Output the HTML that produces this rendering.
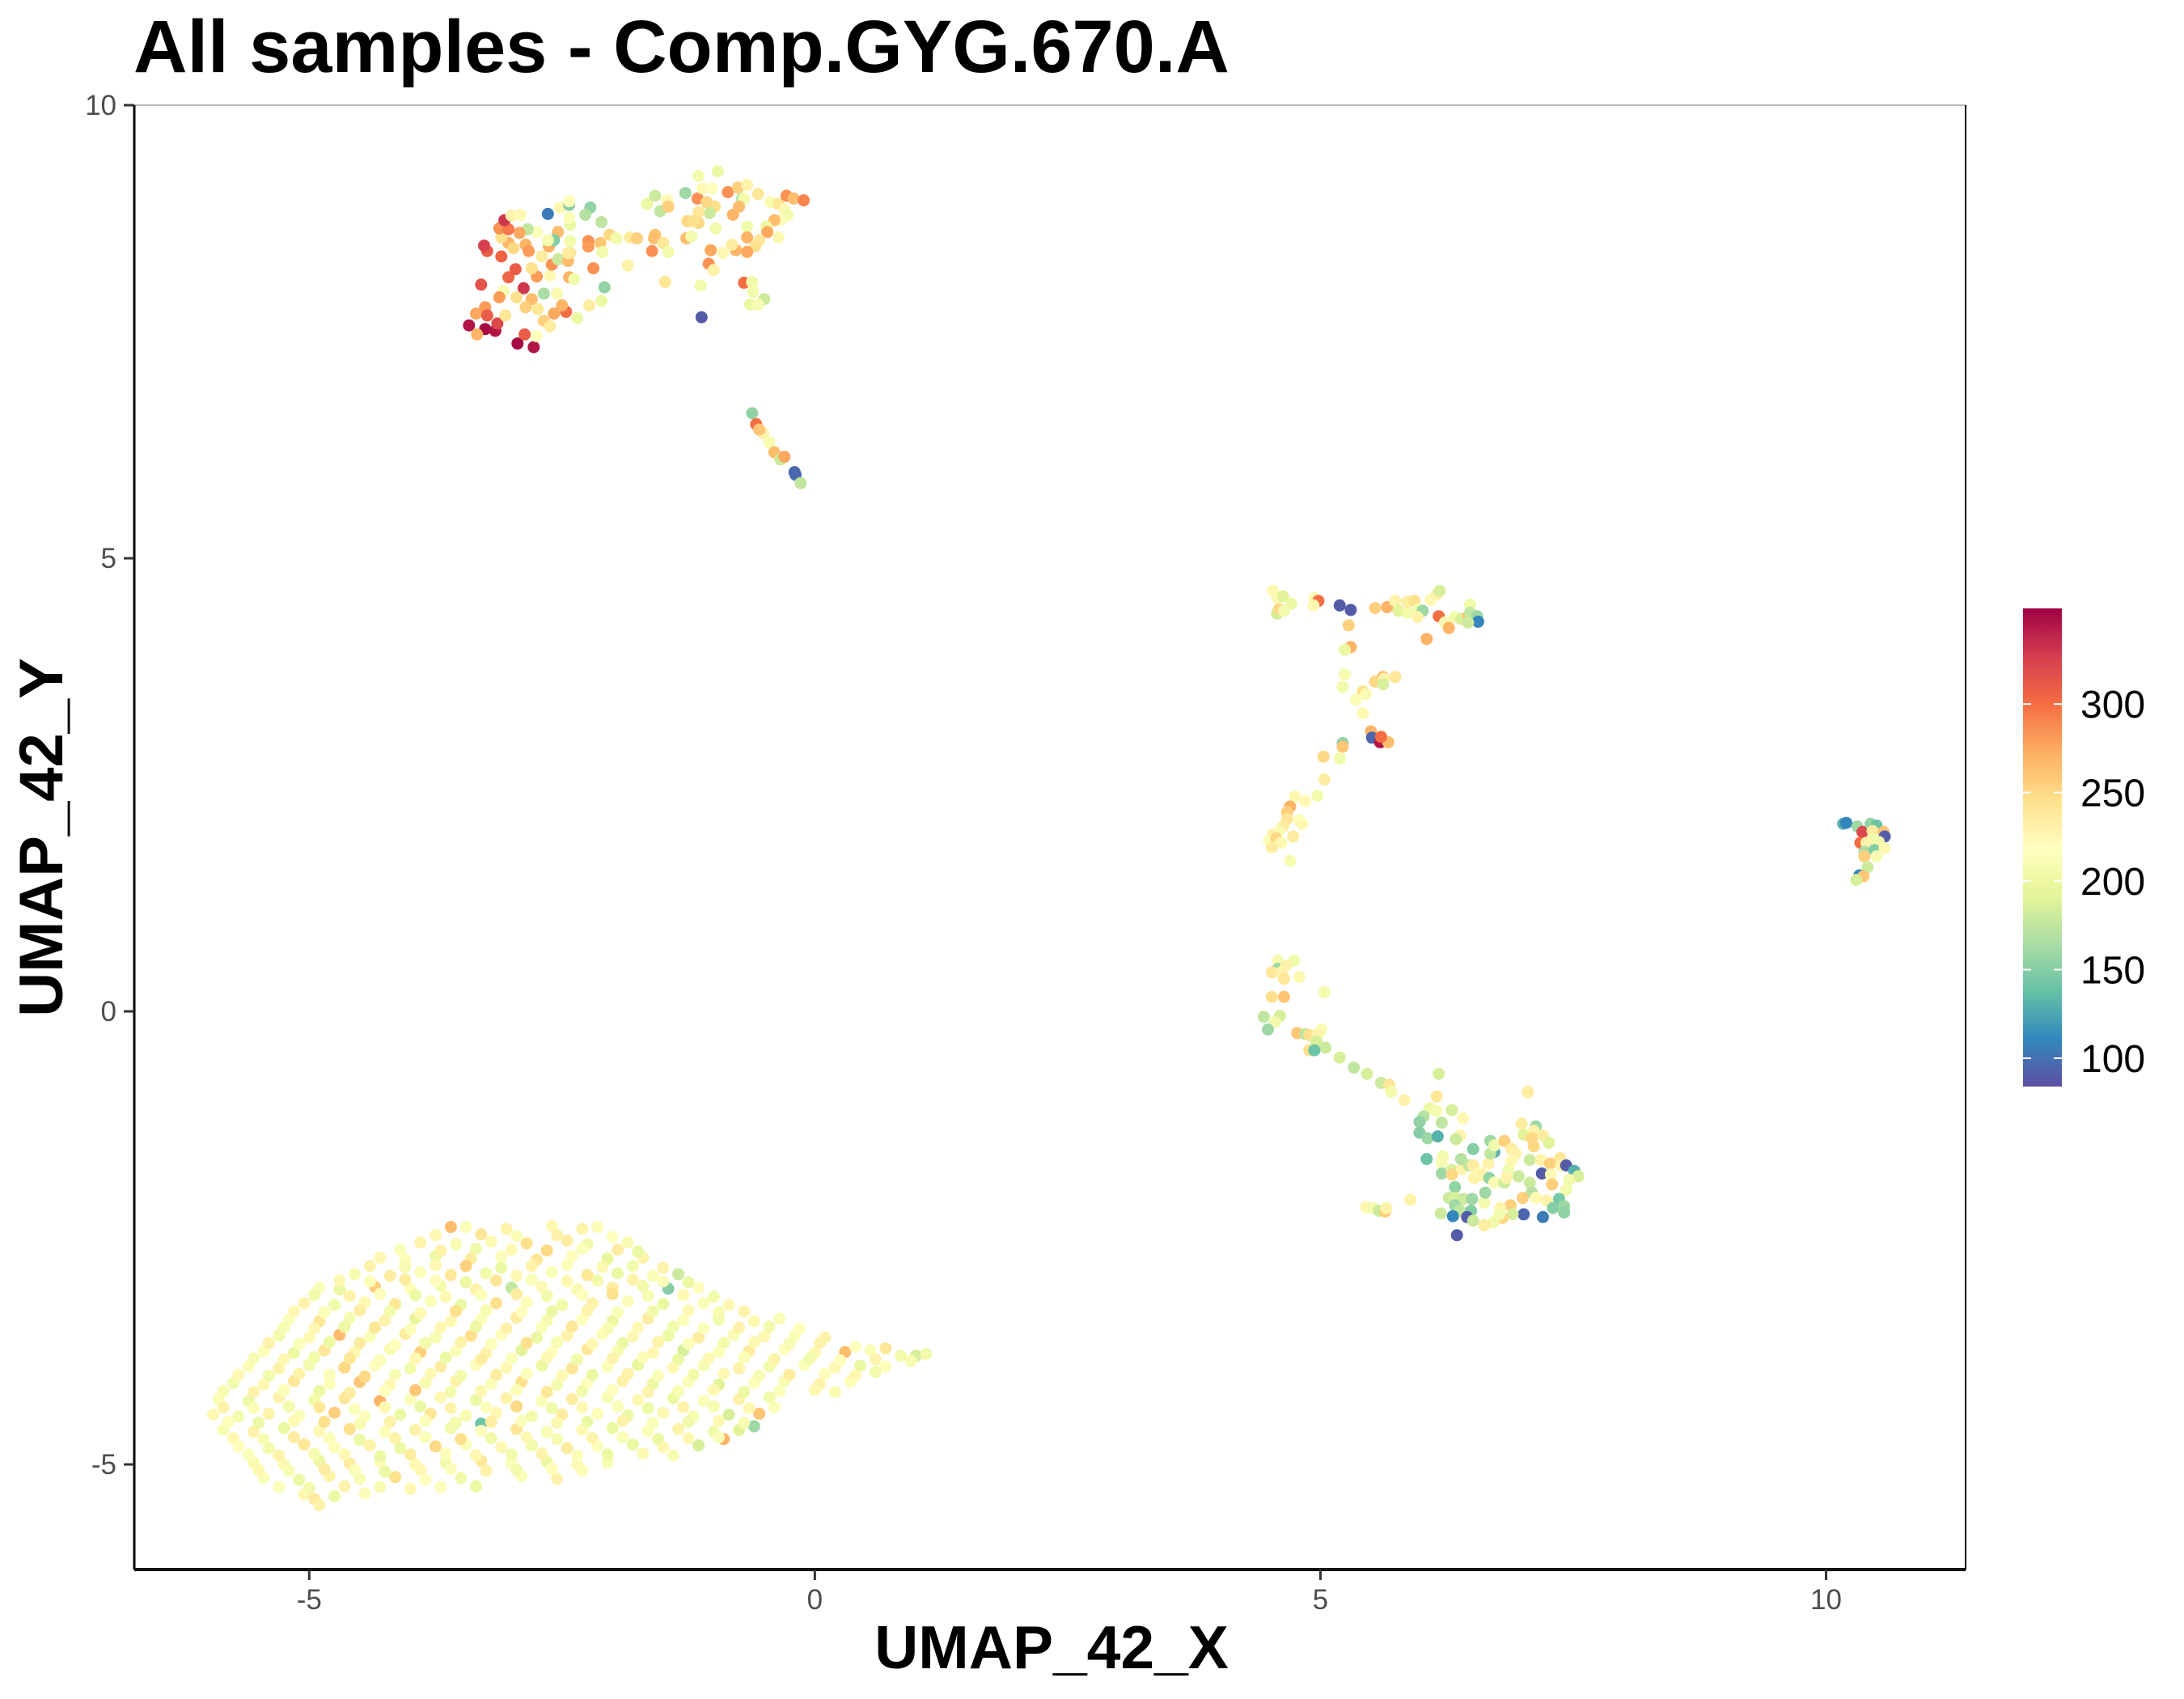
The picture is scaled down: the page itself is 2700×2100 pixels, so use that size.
<!DOCTYPE html>
<html><head><meta charset="utf-8"><title>All samples - Comp.GYG.670.A</title>
<style>html,body{margin:0;padding:0;background:#fff}svg{display:block}</style></head>
<body>
<svg id="chart" width="2700" height="2100" viewBox="0 0 2700 2100" xmlns="http://www.w3.org/2000/svg" font-family="Liberation Sans, Arial, sans-serif">
<defs>
<linearGradient id="spec" x1="0" y1="1" x2="0" y2="0">
<stop offset="0" stop-color="#5E4FA2"/><stop offset="0.1" stop-color="#3288BD"/><stop offset="0.2" stop-color="#66C2A5"/><stop offset="0.3" stop-color="#ABDDA4"/><stop offset="0.4" stop-color="#E6F598"/><stop offset="0.5" stop-color="#FFFFBF"/><stop offset="0.6" stop-color="#FEE08B"/><stop offset="0.7" stop-color="#FDAE61"/><stop offset="0.8" stop-color="#F46D43"/><stop offset="0.9" stop-color="#D53E4F"/><stop offset="1" stop-color="#9E0142"/>
</linearGradient>
</defs>
<rect width="2700" height="2100" fill="#fff"/>
<text x="165" y="89" font-size="92" font-weight="bold" fill="#000">All samples - Comp.GYG.670.A</text>
<g id="plot"></g>
<g id="axes"></g>
<text x="1300" y="2062" font-size="75" font-weight="bold" text-anchor="middle">UMAP_42_X</text>
<text transform="translate(77,1035) rotate(-90)" font-size="76" font-weight="bold" text-anchor="middle">UMAP_42_Y</text>
<g id="legend"></g>
</svg>
<script>
const xTicks = [-5, 0, 5, 10];
const yTicks = [-5, 0, 5, 10];
const xTickLabels = ["-5", "0", "5", "10"];
const yTickLabels = ["-5", "0", "5", "10"];
const colorBreaks = [100, 150, 200, 250, 300];
const colorLimits = [84, 354];
const xDomain = [-6.73, 11.38];
const yDomain = [-6.16, 10];

const clusterTopLeft = [
[-3.42,7.57,345],[-3.26,7.53,350],[-3.16,7.51,345],[-3.34,7.47,270],[-3.14,7.59,320],[-3.35,7.7,275],[-3.26,7.77,280],[-3.24,7.68,310],[-3.06,7.68,240],[-2.94,7.37,350],[-2.78,7.33,345],[-2.87,7.47,310],[-2.75,7.45,220],[-2.68,7.62,255],[-2.62,7.56,235],[-2.58,7.7,275],[-2.46,7.72,300],[-2.35,7.65,200],[-2.23,7.79,235],[-2.11,7.84,200],[-2.08,7.99,155],[-2.19,8.2,285],[-3.3,8.02,315],[-3.03,8.1,305],[-2.96,8.19,310],[-2.88,7.98,330],[-3.08,7.95,210],[-3.12,7.88,280],[-2.95,7.88,245],[-2.8,7.86,265],[-2.86,7.77,255],[-2.74,7.75,240],[-2.68,7.92,165],[-2.55,7.92,210],[-2.5,7.79,270],[-2.43,8.1,270],[-2.38,8.08,205],[-2.62,8.12,225],[-2.75,8.11,280],[-2.8,8.2,245],[-2.7,8.33,235],[-2.6,8.24,285],[-2.54,8.3,180],[-2.44,8.28,265],[-2.42,8.37,240],[-2.54,8.6,265],[-2.63,8.44,270],[-2.58,8.51,150],[-2.64,8.51,210],[-2.75,8.6,215],[-2.84,8.63,175],[-2.92,8.59,275],[-3.03,8.48,270],[-3.1,8.54,245],[-3.12,8.64,285],[-3.03,8.63,295],[-3.07,8.73,330],[-3.0,8.78,230],[-2.91,8.79,225],[-2.86,8.46,270],[-2.83,8.39,280],[-2.98,8.42,250],[-3.1,8.33,305],[-3.24,8.39,310],[-3.27,8.45,325],[-2.64,8.8,105],[-2.52,8.87,225],[-2.43,8.9,150],[-2.43,8.94,215],[-2.22,8.87,155],[-2.27,8.79,170],[-2.11,8.71,175],[-2.42,8.68,200],[-2.43,8.76,215],[-2.42,8.5,205],[-2.24,8.5,285],[-2.12,8.48,260],[-2.03,8.57,250],[-1.96,8.53,205],[-2.24,8.44,280],[-2.1,8.38,205],[-2.44,8.37,235],[-1.83,8.54,235],[-1.76,8.53,255],[-1.85,8.23,230],[-1.58,8.57,260],[-1.59,8.53,265],[-1.5,8.48,240],[-1.61,8.39,285],[-1.45,8.38,205],[-1.48,8.05,240],[-1.66,8.91,200],[-1.58,9.0,180],[-1.53,8.83,175],[-1.46,8.95,225],[-1.45,8.88,255],[-1.28,9.03,160],[-1.16,8.97,285],[-1.15,9.22,205],[-0.96,9.27,200],[-1.11,9.08,225],[-1.02,9.08,220],[-0.86,9.04,285],[-0.76,9.09,255],[-0.67,9.12,230],[-0.72,8.97,170],[-0.7,8.97,205],[-0.56,9.02,240],[-0.44,8.93,210],[-0.36,8.91,240],[-0.28,9.0,285],[-0.21,8.97,265],[-0.11,8.95,290],[-0.3,8.85,225],[-0.27,8.79,205],[-0.34,8.73,215],[-0.4,8.73,265],[-0.48,8.66,200],[-0.47,8.6,275],[-0.36,8.54,225],[-0.55,8.51,240],[-0.59,8.44,245],[-0.67,8.66,205],[-0.67,8.54,270],[-0.67,8.38,275],[-0.78,8.4,270],[-0.82,8.46,235],[-0.91,8.37,225],[-1.03,8.4,275],[-1.05,8.25,285],[-1.0,8.18,230],[-0.81,8.79,270],[-0.75,8.88,265],[-0.99,8.88,245],[-1.04,8.81,180],[-0.98,8.64,205],[-1.07,8.93,250],[-1.15,8.82,240],[-1.15,8.7,250],[-1.26,8.72,250],[-1.2,8.72,245],[-1.27,8.53,265],[-1.22,8.55,205],[-1.13,8.01,205],[-1.12,7.66,90],[-0.7,8.04,300],[-0.62,8.05,205],[-0.61,7.94,205],[-0.5,7.86,180],[-0.64,7.8,200],[-0.56,7.8,210]
];
const clusterStrand = [
[-0.62,6.6,155],[-0.58,6.48,300],[-0.51,6.38,230],[-0.45,6.28,210],[-0.4,6.17,265],[-0.34,6.09,180],[-0.19,5.92,100],[-0.14,5.83,175],[-0.55,6.42,260],[-0.3,6.12,275],[-0.2,5.95,95]
];
const clusterMidUpper = [
[4.53,4.64,225],[4.57,4.57,225],[4.63,4.58,190],[4.71,4.5,200],[4.57,4.39,185],[4.59,4.44,250],[4.64,4.42,205],[4.94,4.56,210],[4.98,4.53,300],[4.93,4.48,225],[5.19,4.48,90],[5.3,4.43,90],[5.54,4.45,255],[5.66,4.46,270],[5.74,4.53,230],[5.77,4.42,190],[5.86,4.4,205],[5.86,4.52,235],[5.93,4.53,245],[5.97,4.44,205],[6.01,4.42,160],[5.96,4.35,230],[6.09,4.54,225],[6.15,4.6,230],[6.18,4.64,185],[6.17,4.36,300],[6.23,4.29,225],[6.27,4.23,270],[6.33,4.35,205],[6.39,4.33,185],[6.46,4.36,260],[6.48,4.49,205],[6.48,4.4,175],[6.55,4.36,160],[6.56,4.3,110],[6.46,4.29,180],[6.05,4.11,270],[5.28,4.26,255],[5.3,4.02,270],[5.24,3.99,200],[5.24,3.72,210],[5.22,3.58,205],[5.42,3.53,245],[5.45,3.5,210],[5.35,3.44,215],[5.42,3.29,225],[5.54,3.64,250],[5.62,3.69,265],[5.63,3.67,230],[5.74,3.69,240],[5.62,3.61,185],[5.5,3.09,270],[5.51,3.02,95],[5.59,2.97,345],[5.67,2.97,265],[5.6,3.03,300],[5.22,2.96,155],[5.22,2.92,260],[5.03,2.81,250],[5.19,2.79,205],[5.04,2.56,235],[4.97,2.38,205],[4.75,2.37,225],[4.85,2.32,225],[4.7,2.26,270],[4.67,2.2,255],[4.67,2.12,240],[4.79,2.11,215],[4.82,2.07,225],[4.63,2.04,235],[4.59,1.99,210],[4.53,1.95,230],[4.49,1.88,215],[4.56,1.91,250],[4.61,1.86,225],[4.52,1.81,235],[4.73,1.93,235],[4.7,1.66,210]
];
const clusterFarRight = [
[10.17,2.07,130],[10.2,2.08,110],[10.31,2.04,160],[10.36,1.98,320],[10.44,2.07,155],[10.5,2.05,140],[10.46,1.99,235],[10.57,1.98,260],[10.58,1.93,90],[10.46,1.9,205],[10.34,1.86,300],[10.4,1.86,230],[10.52,1.87,205],[10.38,1.76,165],[10.48,1.78,150],[10.58,1.8,225],[10.38,1.71,255],[10.5,1.71,210],[10.41,1.59,180],[10.33,1.5,110],[10.37,1.49,260],[10.3,1.45,185]
];
const clusterMidLower = [
[4.58,0.56,210],[4.74,0.56,205],[4.58,0.47,160],[4.52,0.43,240],[4.61,0.43,230],[4.64,0.36,240],[4.66,0.5,230],[4.79,0.38,225],[5.04,0.21,205],[4.52,0.16,245],[4.64,0.16,260],[4.44,-0.06,175],[4.6,-0.05,185],[4.55,-0.12,205],[4.48,-0.2,160],[4.77,-0.24,260],[4.85,-0.25,175],[4.89,-0.26,245],[5.01,-0.2,210],[4.97,-0.26,230],[4.96,-0.33,185],[5.05,-0.4,180],[4.89,-0.43,245],[4.94,-0.43,140],[5.19,-0.51,185],[5.33,-0.62,175],[5.46,-0.69,185],[5.6,-0.79,180],[5.68,-0.81,240],[5.7,-0.89,205],[5.83,-0.98,230],[6.17,-0.69,185],[7.05,-0.89,235],[6.15,-0.94,240],[6.08,-1.07,200],[6.15,-1.1,210],[6.02,-1.16,170],[5.98,-1.22,155],[6.3,-1.09,185],[6.41,-1.18,225],[6.2,-1.23,175],[5.98,-1.34,150],[6.06,-1.4,160],[6.16,-1.38,130],[6.38,-1.37,230],[6.34,-1.41,180],[6.05,-1.63,140],[6.21,-1.6,205],[6.2,-1.67,210],[6.2,-1.79,160],[6.3,-1.75,185],[6.3,-1.8,250],[6.4,-1.74,230],[6.39,-1.63,170],[6.47,-1.7,175],[6.51,-1.52,150],[6.51,-1.7,235],[6.66,-1.68,230],[6.68,-1.43,160],[6.72,-1.55,130],[6.68,-1.57,175],[6.72,-1.48,205],[6.82,-1.43,255],[6.89,-1.52,235],[6.93,-1.57,230],[6.89,-1.65,225],[6.86,-1.75,205],[6.96,-1.82,180],[6.99,-1.24,235],[7.01,-1.36,190],[7.13,-1.27,160],[7.11,-1.32,230],[7.09,-1.4,250],[7.2,-1.37,235],[7.26,-1.45,190],[7.11,-1.49,250],[7.07,-1.64,180],[7.18,-1.64,230],[7.27,-1.68,255],[7.19,-1.79,90],[7.28,-1.8,225],[7.37,-1.62,240],[7.38,-1.7,230],[7.43,-1.7,90],[7.51,-1.76,130],[7.55,-1.82,185],[7.46,-1.86,205],[7.29,-1.91,255],[7.43,-1.97,205],[7.07,-1.89,180],[7.09,-2.0,170],[7.13,-2.06,225],[7.0,-2.06,255],[6.88,-2.14,255],[7.24,-2.09,230],[7.36,-2.07,145],[7.3,-2.17,150],[7.41,-2.15,160],[7.41,-2.22,155],[7.2,-2.27,105],[7.01,-2.24,95],[6.9,-2.24,185],[6.78,-2.17,230],[6.8,-2.28,250],[6.77,-2.24,205],[6.71,-2.33,205],[6.62,-2.36,235],[6.62,-2.11,205],[6.63,-2.0,160],[6.52,-1.84,230],[6.57,-1.78,225],[6.61,-1.81,230],[6.67,-1.84,155],[6.72,-1.89,210],[6.82,-1.89,180],[6.84,-1.84,230],[6.33,-1.94,155],[6.27,-2.06,180],[6.33,-2.06,185],[6.41,-2.07,180],[6.5,-2.07,160],[6.33,-2.14,160],[6.38,-2.2,175],[6.49,-2.2,150],[6.45,-2.27,90],[6.51,-2.31,180],[6.31,-2.26,110],[6.19,-2.23,180],[6.35,-2.47,90],[5.89,-2.08,230],[5.45,-2.16,225],[5.52,-2.17,205],[5.58,-2.2,180],[5.64,-2.21,255],[5.65,-2.17,230]
];
const clusterBottomLeft = [
[-3.6,-2.38,265],[-3.45,-2.38,215],[-3.05,-2.4,230],[-2.6,-2.37,225],[-2.3,-2.4,230],[-2.15,-2.38,215],
[-3.9,-2.55,230],[-3.55,-2.57,210],[-3.2,-2.54,225],[-2.85,-2.56,245],[-2.45,-2.53,235],[-2.25,-2.57,205],[-1.85,-2.55,210],
[-4.3,-2.72,225],[-4.05,-2.74,215],[-3.75,-2.7,200],[-3.4,-2.73,235],[-3.1,-2.71,215],[-2.75,-2.74,240],[-2.4,-2.7,220],[-2.05,-2.73,195],[-1.7,-2.72,230],
[-4.55,-2.9,210],[-4.2,-2.92,235],[-3.9,-2.88,215],[-3.6,-2.91,240],[-3.25,-2.89,205],[-2.95,-2.92,225],[-2.6,-2.88,215],[-2.25,-2.91,240],[-1.95,-2.89,200],[-1.6,-2.92,215],[-1.35,-2.9,180],
[-4.9,-3.05,215],[-4.7,-3.07,200],[-4.35,-3.04,255],[-4.0,-3.06,220],[-3.7,-3.03,205],[-3.35,-3.07,230],[-3.0,-3.05,175],[-2.7,-3.04,225],[-2.35,-3.07,210],[-2.0,-3.05,235],[-1.7,-3.03,205],[-1.45,-3.06,150],[-1.15,-3.05,220],
[-5.05,-3.22,230],[-4.75,-3.24,205],[-4.45,-3.21,225],[-4.15,-3.23,240],[-3.8,-3.2,215],[-3.5,-3.24,200],[-3.15,-3.22,245],[-2.85,-3.21,215],[-2.5,-3.24,205],[-2.2,-3.22,230],[-1.85,-3.2,215],[-1.5,-3.23,200],[-1.1,-3.22,215],[-0.85,-3.24,225],
[-5.2,-3.4,215],[-4.9,-3.42,240],[-4.6,-3.38,210],[-4.25,-3.41,230],[-3.95,-3.39,195],[-3.6,-3.42,225],[-3.3,-3.4,215],[-2.95,-3.38,235],[-2.65,-3.41,210],[-2.3,-3.4,220],[-2.0,-3.42,200],[-1.65,-3.39,235],[-1.3,-3.41,215],[-0.95,-3.4,205],[-0.6,-3.42,225],[-0.35,-3.39,215],
[-5.3,-3.58,205],[-5.0,-3.6,225],[-4.7,-3.57,265],[-4.4,-3.59,215],[-4.05,-3.56,235],[-3.75,-3.6,210],[-3.4,-3.58,245],[-3.1,-3.57,220],[-2.75,-3.6,200],[-2.45,-3.58,230],[-2.1,-3.56,215],[-1.8,-3.59,225],[-1.45,-3.58,200],[-1.15,-3.6,235],[-0.8,-3.57,210],[-0.5,-3.59,225],[-0.2,-3.58,215],[0.1,-3.6,230],
[-5.45,-3.75,220],[-5.15,-3.77,200],[-4.85,-3.74,240],[-4.55,-3.76,225],[-4.2,-3.73,210],[-3.9,-3.76,255],[-3.55,-3.75,215],[-3.25,-3.77,230],[-2.9,-3.74,190],[-2.6,-3.76,220],[-2.25,-3.73,240],[-1.95,-3.75,210],[-1.6,-3.77,225],[-1.3,-3.74,185],[-0.95,-3.76,215],[-0.65,-3.75,235],[-0.3,-3.73,220],[0.0,-3.77,225],[0.3,-3.76,265],[0.55,-3.74,215],[0.85,-3.8,205],[1.0,-3.8,185],[1.1,-3.78,205],
[-5.6,-3.92,215],[-5.3,-3.94,230],[-5.0,-3.9,205],[-4.65,-3.93,250],[-4.35,-3.91,220],[-4.0,-3.94,205],[-3.7,-3.92,235],[-3.35,-3.9,215],[-3.05,-3.93,225],[-2.7,-3.91,200],[-2.4,-3.94,240],[-2.05,-3.92,215],[-1.75,-3.9,195],[-1.4,-3.93,225],[-1.1,-3.91,210],[-0.75,-3.94,230],[-0.45,-3.92,205],[-0.1,-3.9,215],[0.2,-3.93,225],[0.45,-3.91,200],[0.7,-3.92,215],
[-5.75,-4.1,205],[-5.45,-4.12,225],[-5.15,-4.08,240],[-4.8,-4.11,215],[-4.5,-4.09,260],[-4.2,-4.12,225],[-3.85,-4.1,210],[-3.55,-4.08,230],[-3.2,-4.11,215],[-2.9,-4.09,245],[-2.55,-4.12,205],[-2.25,-4.1,220],[-1.9,-4.08,230],[-1.6,-4.11,200],[-1.25,-4.09,215],[-0.95,-4.12,190],[-0.6,-4.1,220],[-0.3,-4.08,210],[0.05,-4.11,230],[0.35,-4.09,215],
[-5.9,-4.28,215],[-5.6,-4.3,200],[-5.3,-4.26,230],[-4.95,-4.29,205],[-4.65,-4.27,240],[-4.3,-4.3,270],[-4.0,-4.28,215],[-3.7,-4.26,225],[-3.35,-4.29,200],[-3.05,-4.27,230],[-2.7,-4.3,215],[-2.4,-4.28,235],[-2.05,-4.26,210],[-1.75,-4.29,225],[-1.4,-4.27,200],[-1.1,-4.3,215],[-0.75,-4.28,230],[-0.45,-4.26,205],
[-5.95,-4.45,225],[-5.7,-4.47,205],[-5.4,-4.44,230],[-5.1,-4.46,215],[-4.75,-4.43,255],[-4.45,-4.47,220],[-4.1,-4.45,200],[-3.8,-4.44,240],[-3.45,-4.46,210],[-3.3,-4.55,140],[-3.15,-4.43,225],[-2.8,-4.47,205],[-2.5,-4.45,235],[-2.15,-4.44,215],[-1.85,-4.46,200],[-1.5,-4.43,225],[-1.2,-4.47,210],[-0.85,-4.45,185],[-0.55,-4.44,260],
[-5.85,-4.62,210],[-5.55,-4.64,230],[-5.25,-4.6,200],[-4.9,-4.63,225],[-4.6,-4.61,245],[-4.25,-4.64,215],[-3.95,-4.62,230],[-3.6,-4.6,205],[-3.3,-4.63,220],[-2.95,-4.61,240],[-2.65,-4.64,210],[-2.3,-4.62,225],[-2.0,-4.6,200],[-1.65,-4.63,215],[-1.35,-4.61,230],[-1.0,-4.64,205],[-0.75,-4.62,190],[-0.6,-4.58,160],
[-5.7,-4.8,220],[-5.4,-4.82,205],[-5.05,-4.78,240],[-4.75,-4.81,215],[-4.4,-4.79,230],[-4.1,-4.82,200],[-3.75,-4.8,250],[-3.45,-4.78,215],[-3.1,-4.81,225],[-2.8,-4.79,205],[-2.45,-4.82,235],[-2.15,-4.8,215],[-1.8,-4.78,200],[-1.5,-4.81,225],[-1.15,-4.79,185],[-0.9,-4.72,270],
[-5.55,-4.98,210],[-5.25,-5.0,225],[-4.9,-4.96,200],[-4.6,-4.99,235],[-4.3,-4.97,215],[-3.95,-5.0,225],[-3.65,-4.98,205],[-3.3,-4.96,240],[-3.0,-4.99,215],[-2.65,-4.97,200],[-2.35,-5.0,225],[-2.05,-4.98,210],
[-5.45,-5.15,215],[-5.1,-5.17,200],[-4.8,-5.13,230],[-4.5,-5.16,210],[-4.15,-5.14,245],[-3.85,-5.17,220],[-3.5,-5.15,205],[-2.9,-5.13,215],[-2.55,-5.16,230],
[-5.05,-5.33,225],[-4.75,-5.35,200],[-4.45,-5.32,215],[-4.95,-5.38,235],[-4.9,-5.45,230]
];
const clusterBottomLeftB = [
[-3.75,-2.47,225],[-3.3,-2.46,240],[-2.95,-2.48,215],[-2.55,-2.47,230],[-2.0,-2.49,220],
[-4.1,-2.63,215],[-3.7,-2.64,230],[-3.35,-2.62,205],[-3.0,-2.63,225],[-2.65,-2.64,250],[-2.3,-2.62,215],[-1.95,-2.63,235],[-1.75,-2.65,200],
[-4.4,-2.81,230],[-4.05,-2.82,210],[-3.75,-2.8,225],[-3.45,-2.81,255],[-3.1,-2.83,200],[-2.8,-2.81,230],[-2.45,-2.8,215],[-2.1,-2.82,225],[-1.8,-2.81,205],[-1.5,-2.83,230],
[-4.7,-2.97,225],[-4.4,-2.98,215],[-4.05,-2.96,235],[-3.75,-2.97,220],[-3.45,-2.99,200],[-3.15,-2.97,240],[-2.8,-2.96,215],[-2.45,-2.98,225],[-2.15,-2.97,205],[-1.8,-2.96,230],[-1.5,-2.98,215],[-1.25,-2.99,200],
[-4.95,-3.13,205],[-4.6,-3.14,230],[-4.3,-3.12,215],[-3.95,-3.13,200],[-3.65,-3.15,225],[-3.3,-3.13,215],[-2.95,-3.12,235],[-2.65,-3.14,205],[-2.3,-3.13,220],[-2.0,-3.12,245],[-1.65,-3.14,210],[-1.3,-3.13,225],[-1.0,-3.15,205],
[-5.15,-3.31,225],[-4.85,-3.32,215],[-4.5,-3.3,235],[-4.2,-3.31,205],[-3.9,-3.33,225],[-3.55,-3.31,245],[-3.25,-3.3,210],[-2.9,-3.32,220],[-2.6,-3.31,200],[-2.25,-3.3,230],[-1.95,-3.32,215],[-1.6,-3.31,205],[-1.25,-3.3,225],[-0.95,-3.32,210],[-0.7,-3.31,230],
[-5.25,-3.49,210],[-4.95,-3.5,225],[-4.65,-3.48,200],[-4.35,-3.49,240],[-4.0,-3.51,215],[-3.7,-3.49,225],[-3.35,-3.48,200],[-3.05,-3.5,230],[-2.7,-3.49,215],[-2.4,-3.48,240],[-2.05,-3.5,210],[-1.75,-3.49,225],[-1.4,-3.48,205],[-1.1,-3.5,215],[-0.75,-3.49,230],[-0.45,-3.48,205],[-0.15,-3.5,220],
[-5.4,-3.66,230],[-5.1,-3.67,215],[-4.8,-3.65,200],[-4.5,-3.66,235],[-4.15,-3.68,220],[-3.85,-3.66,205],[-3.5,-3.65,230],[-3.2,-3.67,215],[-2.85,-3.66,245],[-2.55,-3.65,210],[-2.2,-3.67,225],[-1.9,-3.66,200],[-1.55,-3.65,230],[-1.25,-3.67,215],[-0.9,-3.66,205],[-0.6,-3.65,225],[-0.25,-3.67,210],[0.05,-3.66,230],[0.4,-3.7,220],[0.7,-3.72,240],
[-5.55,-3.83,210],[-5.25,-3.84,225],[-4.95,-3.82,205],[-4.6,-3.83,240],[-4.3,-3.85,215],[-3.95,-3.83,225],[-3.65,-3.82,200],[-3.3,-3.84,235],[-3.0,-3.83,215],[-2.65,-3.82,225],[-2.35,-3.84,205],[-2.0,-3.83,230],[-1.7,-3.82,215],[-1.35,-3.84,200],[-1.05,-3.83,225],[-0.7,-3.82,215],[-0.4,-3.84,230],[-0.05,-3.83,205],[0.25,-3.85,220],[0.6,-3.84,230],[0.95,-3.86,210],
[-5.7,-4.01,225],[-5.4,-4.02,205],[-5.1,-4.0,230],[-4.8,-4.01,215],[-4.45,-4.03,250],[-4.15,-4.01,210],[-3.8,-4.0,225],[-3.5,-4.02,205],[-3.15,-4.01,235],[-2.85,-4.0,215],[-2.5,-4.02,225],[-2.2,-4.01,200],[-1.85,-4.0,230],[-1.55,-4.02,215],[-1.2,-4.01,205],[-0.9,-4.0,225],[-0.55,-4.02,210],[-0.25,-4.01,235],[0.1,-4.0,215],[0.4,-4.02,225],[0.6,-3.98,205],
[-5.85,-4.19,210],[-5.55,-4.2,230],[-5.25,-4.18,215],[-4.9,-4.19,200],[-4.6,-4.21,235],[-4.25,-4.19,220],[-3.95,-4.18,260],[-3.6,-4.2,205],[-3.3,-4.19,225],[-2.95,-4.18,215],[-2.65,-4.2,240],[-2.3,-4.19,205],[-2.0,-4.18,220],[-1.65,-4.2,230],[-1.35,-4.19,210],[-1.0,-4.18,225],[-0.7,-4.2,200],[-0.35,-4.19,215],[0.0,-4.18,225],[0.2,-4.2,210],
[-5.85,-4.37,230],[-5.55,-4.38,215],[-5.2,-4.36,205],[-4.9,-4.37,240],[-4.55,-4.39,215],[-4.25,-4.37,225],[-3.9,-4.36,200],[-3.6,-4.38,230],[-3.25,-4.37,215],[-2.95,-4.36,250],[-2.6,-4.38,205],[-2.3,-4.37,225],[-1.95,-4.36,215],[-1.65,-4.38,200],[-1.3,-4.37,230],[-1.0,-4.36,210],[-0.65,-4.38,225],[-0.4,-4.37,215],
[-5.8,-4.53,215],[-5.5,-4.54,200],[-5.15,-4.52,225],[-4.85,-4.53,245],[-4.5,-4.55,210],[-4.2,-4.53,230],[-3.85,-4.52,215],[-3.55,-4.54,205],[-3.2,-4.53,235],[-2.9,-4.52,215],[-2.55,-4.54,225],[-2.25,-4.53,200],[-1.9,-4.52,230],[-1.6,-4.54,215],[-1.25,-4.53,205],[-0.95,-4.52,225],[-0.7,-4.54,210],
[-5.75,-4.71,225],[-5.45,-4.72,210],[-5.15,-4.7,235],[-4.8,-4.71,215],[-4.5,-4.73,200],[-4.15,-4.71,230],[-3.85,-4.7,215],[-3.5,-4.72,245],[-3.2,-4.71,205],[-2.85,-4.7,225],[-2.55,-4.72,210],[-2.2,-4.71,230],[-1.9,-4.7,215],[-1.55,-4.72,200],[-1.25,-4.71,225],[-0.95,-4.7,215],
[-5.6,-4.89,215],[-5.3,-4.9,230],[-4.95,-4.88,210],[-4.65,-4.89,225],[-4.3,-4.91,200],[-4.0,-4.89,235],[-3.65,-4.88,215],[-3.35,-4.9,225],[-3.0,-4.89,205],[-2.7,-4.88,230],[-2.35,-4.9,215],[-2.05,-4.89,200],[-1.7,-4.88,225],[-1.4,-4.9,210],
[-5.5,-5.06,225],[-5.2,-5.07,210],[-4.85,-5.05,235],[-4.55,-5.06,215],[-4.25,-5.08,200],[-3.9,-5.06,225],[-3.6,-5.05,215],[-3.25,-5.07,230],[-2.95,-5.06,205],[-2.6,-5.05,220],[-2.3,-5.07,215],
[-5.3,-5.25,215],[-5.0,-5.26,205],[-4.65,-5.24,230],[-4.3,-5.25,210],[-4.0,-5.27,225],[-3.7,-5.25,215],[-3.35,-5.24,200]
];

const P = {left:166, right:2430, top:130, bottom:1940};
function xScale(v){ return P.left + (v - xDomain[0]) / (xDomain[1] - xDomain[0]) * (P.right - P.left); }
function yScale(v){ return P.bottom - (v - yDomain[0]) / (yDomain[1] - yDomain[0]) * (P.bottom - P.top); }
const spectral = ["#5E4FA2","#3288BD","#66C2A5","#ABDDA4","#E6F598","#FFFFBF","#FEE08B","#FDAE61","#F46D43","#D53E4F","#9E0142"];
function hex(h){ return [parseInt(h.slice(1,3),16),parseInt(h.slice(3,5),16),parseInt(h.slice(5,7),16)]; }
function colorOf(v){
  let t = (v - colorLimits[0]) / (colorLimits[1] - colorLimits[0]);
  t = Math.max(0, Math.min(1, t)) * (spectral.length - 1);
  const i = Math.min(spectral.length - 2, Math.floor(t)), f = t - i;
  const a = hex(spectral[i]), b = hex(spectral[i+1]);
  return "rgb(" + a.map((c,k)=>Math.round(c + (b[k]-c)*f)).join(",") + ")";
}
const NS = "http://www.w3.org/2000/svg";
function mk(tag, attrs, parent){ const e = document.createElementNS(NS, tag); for (const k in attrs) e.setAttribute(k, attrs[k]); parent.appendChild(e); return e; }

const plot = document.getElementById("plot");
const allClusters = [clusterBottomLeft, clusterBottomLeftB, clusterTopLeft, clusterStrand, clusterMidUpper, clusterMidLower, clusterFarRight];
allClusters.forEach(function(cl){
  cl.forEach(function(p){
    const c = mk("circle", {cx:xScale(p[0]).toFixed(1), cy:yScale(p[1]).toFixed(1), r:7.5, fill:colorOf(p[2])}, plot);
    
    
  });
});

const axes = document.getElementById("axes");
const topLine = mk("line", {x1:P.left, y1:P.top, x2:P.right, y2:P.top, stroke:"#bbb", "stroke-width":2}, axes);


const rightLine = mk("line", {x1:P.right, y1:P.top, x2:P.right, y2:P.bottom, stroke:"#000", "stroke-width":2}, axes);


const xAxisLine = mk("line", {x1:P.left, y1:P.bottom, x2:P.right, y2:P.bottom, stroke:"#111", "stroke-width":4}, axes);


const yAxisLine = mk("line", {x1:P.left, y1:P.top, x2:P.left, y2:P.bottom, stroke:"#000", "stroke-width":3}, axes);



xTicks.forEach(function(v, i){
  const x = xScale(v);
  const t = mk("line", {x1:x, y1:P.bottom, x2:x, y2:P.bottom+13, stroke:"#333", "stroke-width":3}, axes);
  
  
  const l = mk("text", {x:x, y:1989, "font-size":35, fill:"#4d4d4d", "text-anchor":"middle"}, axes);
  l.textContent = xTickLabels[i];
  
  
});
yTicks.forEach(function(v, i){
  const y = yScale(v);
  const t = mk("line", {x1:P.left-13, y1:y, x2:P.left, y2:y, stroke:"#333", "stroke-width":3}, axes);
  
  
  const l = mk("text", {x:144, y:y+12, "font-size":35, fill:"#4d4d4d", "text-anchor":"end"}, axes);
  l.textContent = yTickLabels[i];
  
  
});

const legend = document.getElementById("legend");
const CB = {x:2501, w:48, top:752, bottom:1343};
function cbY(v){ return CB.bottom - (v - colorLimits[0]) / (colorLimits[1] - colorLimits[0]) * (CB.bottom - CB.top); }
const bar = mk("rect", {x:CB.x, y:CB.top, width:CB.w, height:CB.bottom-CB.top, fill:"url(#spec)"}, legend);


colorBreaks.forEach(function(v){
  const y = cbY(v);
  const a = mk("line", {x1:CB.x, y1:y, x2:CB.x+10, y2:y, stroke:"#fff", "stroke-width":2}, legend);
  
  
  const b = mk("line", {x1:CB.x+CB.w-10, y1:y, x2:CB.x+CB.w, y2:y, stroke:"#fff", "stroke-width":2}, legend);
  
  
  const l = mk("text", {x:2572, y:y+17, "font-size":48, fill:"#000"}, legend);
  l.textContent = String(v);
  
  
});
</script>
</body></html>
